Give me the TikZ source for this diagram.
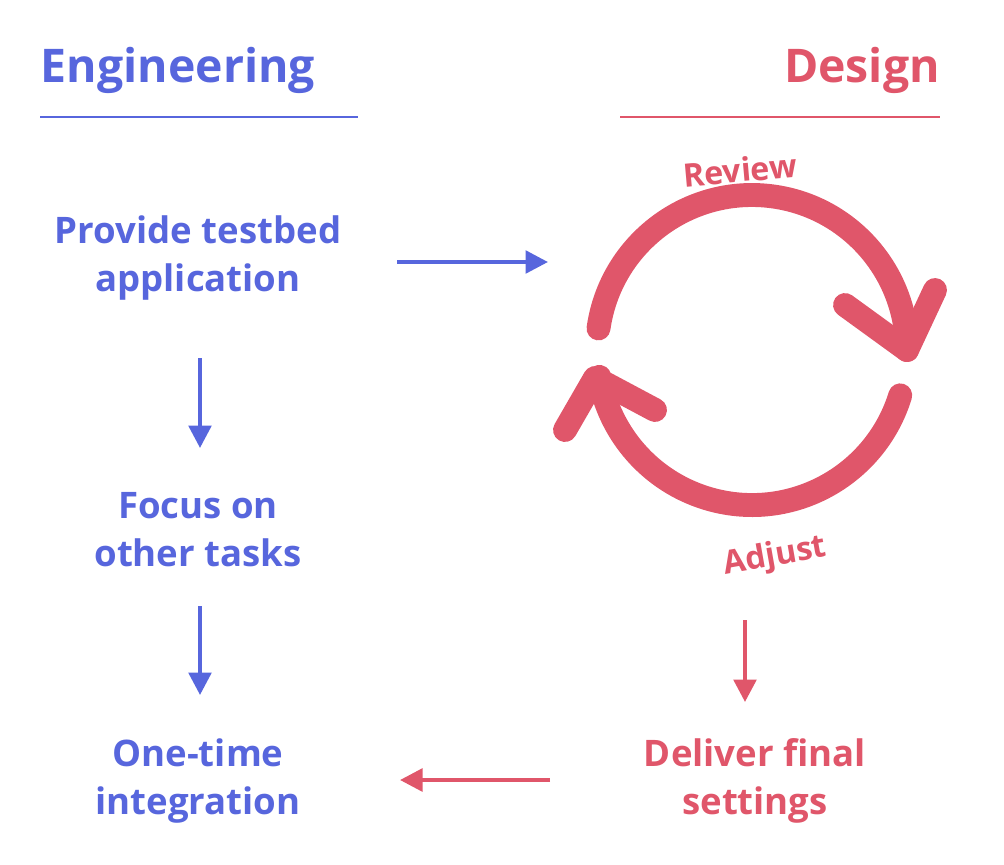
\documentclass[tikz,border=0pt]{standalone}
\usepackage{fontspec}
\setmainfont{Open Sans}
\usetikzlibrary{arrows.meta}
\definecolor{engblue}{HTML}{5766DD}
\definecolor{desred}{HTML}{E0566A}
\tikzset{
  head/.style={font=\fontsize{33}{36}\selectfont\bfseries},
  stage/.style={font=\fontsize{26}{34}\selectfont\bfseries, align=center},
  flow/.style={line width=3pt, -{Triangle[length=16pt,width=16pt]}},
  cyc/.style={desred, line width=17pt, line cap=round, line join=round},
  cyclabel/.style={desred, font=\fontsize{23}{26}\selectfont\bfseries}
}
\begin{document}
\begin{tikzpicture}[x=0.025cm,y=-0.025cm]
\useasboundingbox (0,0) rectangle (1004,864);
% headings
\node[head, engblue] (eng) at (178,70) {Engineering};
\node[head, desred] (des) at (862,70) {Design};
\draw[engblue, line width=2pt] (40,117) -- (358,117);
\draw[desred, line width=2pt] (620,117) -- (940,117);
% steps
\node[stage, engblue] (provide) at (198,258) {Provide testbed\\application};
\node[stage, engblue] (focus) at (198,530) {Focus on\\other tasks};
\node[stage, engblue] (once) at (198,781) {One-time\\integration};
\node[stage, desred] (deliver) at (755,781) {Deliver final\\settings};
\coordinate (cyc) at (752,350);
\draw[flow, engblue] (397,262) -- (548,262);
\draw[flow, engblue] (200,358) -- (200,448);
\draw[flow, engblue] (200,606) -- (200,695);
\draw[flow, desred] (745,620) -- (745,702);
\draw[flow, desred] (550,780) -- (400,780);
% review / adjust cycle
\draw[cyc] (cyc) ++(-172:155) arc[start angle=-172, end angle=0, radius=155];
\draw[cyc] (845,305) -- (907,350) -- (935,290);
\draw[cyc] (cyc) ++(17:155) arc[start angle=17, end angle=170, radius=155];
\draw[cyc] (565,430) -- (595,378) -- (655,410);
\node[cyclabel, rotate=5] (review) at (740,170) {Review};
\node[cyclabel, rotate=10] (adjust) at (775,557) {Adjust};
\end{tikzpicture}
\end{document}
